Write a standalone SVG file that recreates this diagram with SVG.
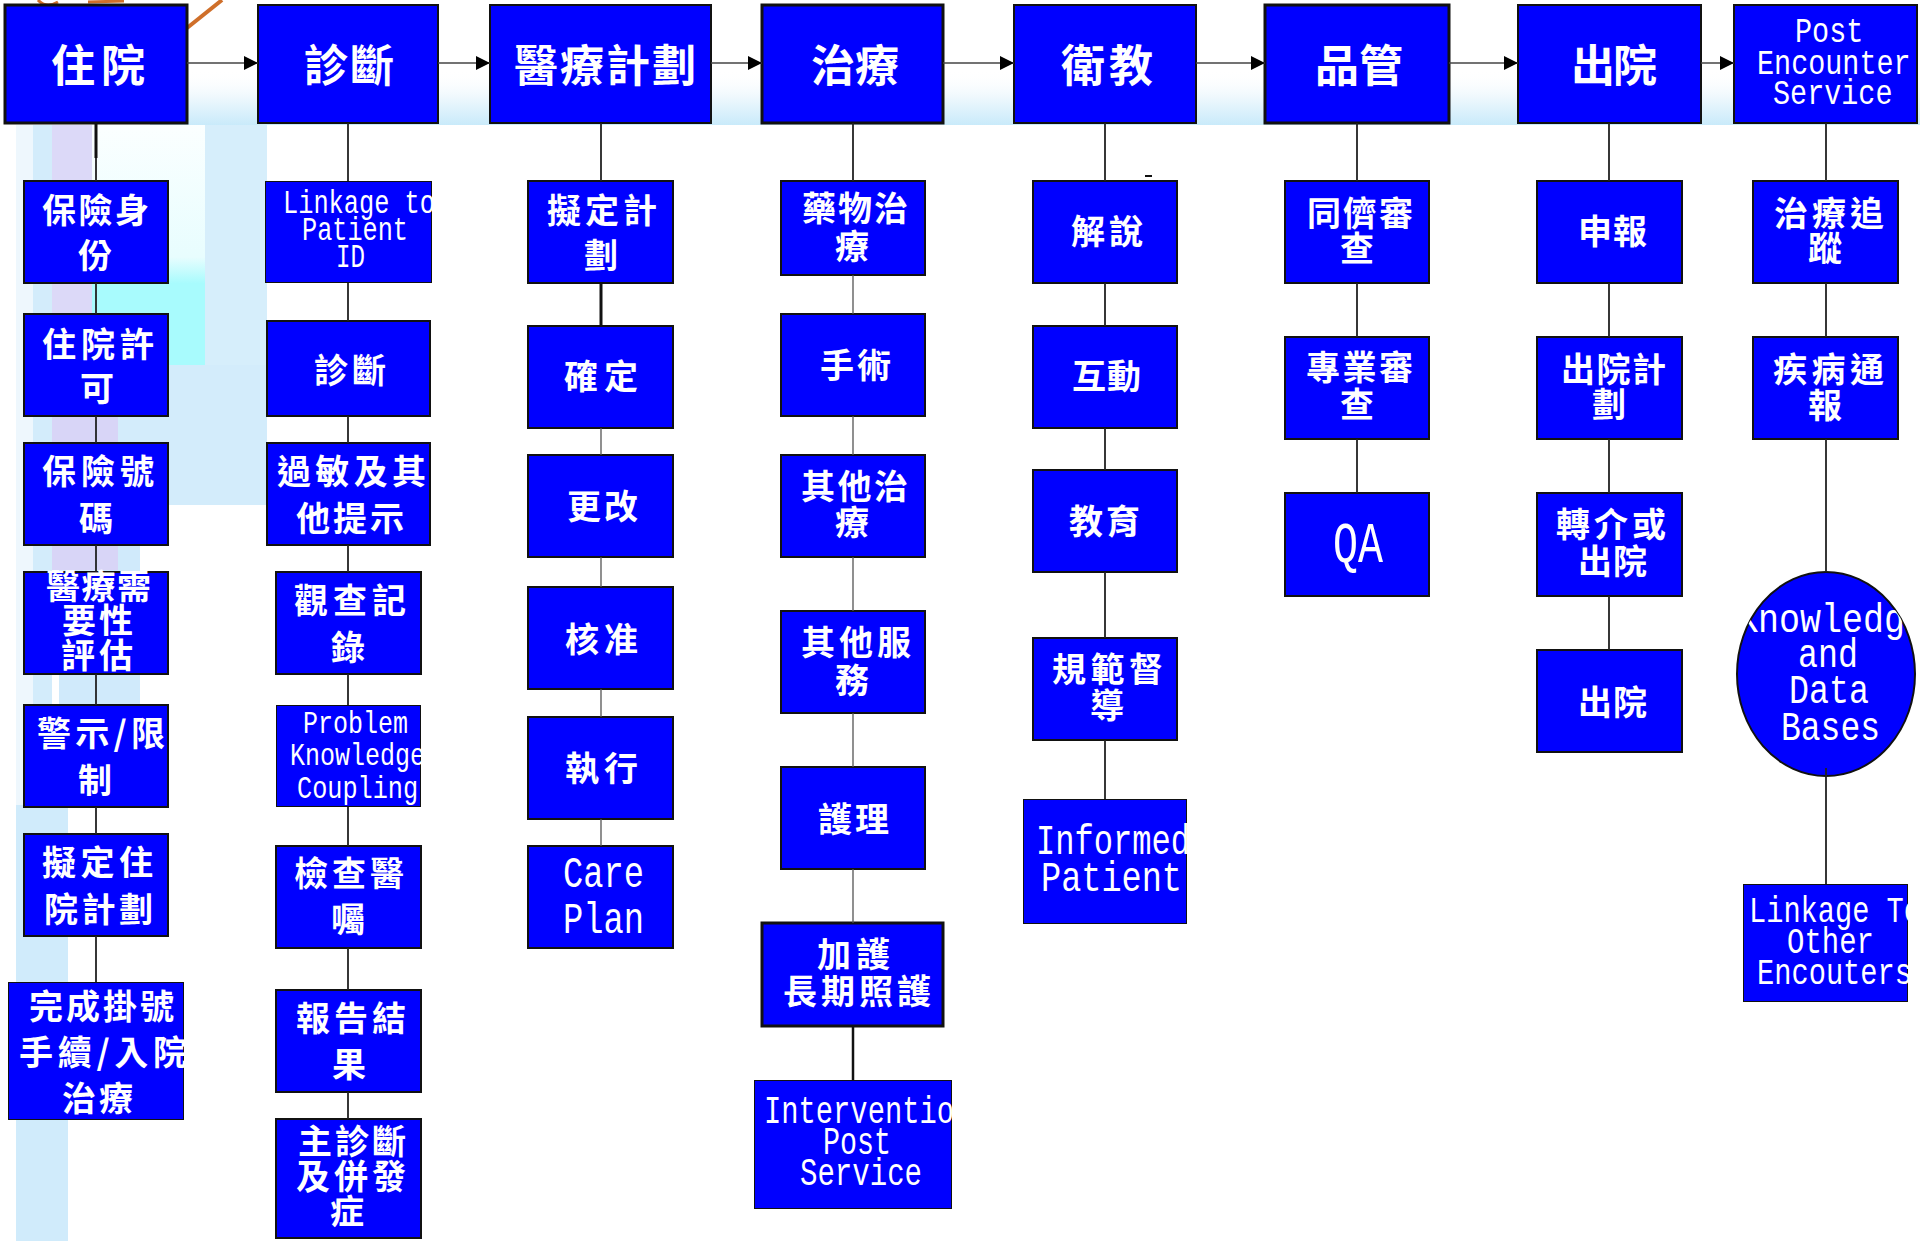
<svg xmlns="http://www.w3.org/2000/svg" width="1920" height="1241" viewBox="0 0 1920 1241">
<style>
.box{fill:#0000ff;stroke:#111;stroke-width:2}
.tk{stroke-width:3}
.zh{font-family:"Noto Sans CJK TC","Noto Sans CJK SC",sans-serif;font-weight:700;fill:#fff;font-size:34px}
.hd{font-size:44px}
.en{font-family:"Liberation Mono","DejaVu Sans Mono",monospace;fill:#fff}
.ln{stroke:#222;stroke-width:1.8;fill:none}
.lg{stroke:#555;stroke-width:1.3;fill:none}
.lt{stroke:#111;stroke-width:3;fill:none}
.ar{stroke:#444;stroke-width:1.5;fill:none;marker-end:url(#ah)}
</style>
<defs>
<marker id="ah" markerUnits="userSpaceOnUse" markerWidth="14" markerHeight="14" refX="14" refY="7" orient="auto"><path d="M0,0 L14,7 L0,14 Z" fill="#000"/></marker>
<linearGradient id="band" x1="0" y1="0" x2="0" y2="1"><stop offset="0" stop-color="#fff" stop-opacity="0"/><stop offset="0.5" stop-color="#eef8fd"/><stop offset="1" stop-color="#c9eafa"/></linearGradient>
<linearGradient id="cy" x1="0" y1="0" x2="0" y2="1"><stop offset="0" stop-color="#fbffff"/><stop offset="0.55" stop-color="#e8fdfe"/><stop offset="0.66" stop-color="#a8fbfd"/><stop offset="1" stop-color="#a8fbfd"/></linearGradient>
<clipPath id="c-link1"><rect x="265" y="181" width="167" height="102"/></clipPath>
<clipPath id="c-pkc"><rect x="276" y="705" width="145" height="102"/></clipPath>
<clipPath id="c-wan"><rect x="8" y="982" width="176" height="138"/></clipPath>
<clipPath id="c-inf"><rect x="1023" y="799" width="164" height="125"/></clipPath>
<clipPath id="c-int"><rect x="754" y="1080" width="198" height="129"/></clipPath>
<clipPath id="c-kdb"><ellipse cx="1826" cy="674" rx="89" ry="102"/></clipPath>
<clipPath id="c-lto"><rect x="1743" y="884" width="165" height="118"/></clipPath>
</defs>

<g id="background">
<rect x="0" y="0" width="1920" height="1241" fill="#fff"/>
<rect x="150" y="70" width="1770" height="55" fill="url(#band)"/>
<rect x="16" y="125" width="17" height="680" fill="#eef7fd"/>
<rect x="33" y="125" width="19" height="680" fill="#d3ecfb"/>
<rect x="16" y="805" width="52" height="436" fill="#d0ebfb"/>
<rect x="205" y="125" width="62" height="240" fill="#d6eefb"/>
<rect x="118" y="365" width="149" height="140" fill="#d3ecfb"/>
<rect x="59" y="505" width="81" height="200" fill="#d0eafb"/>
<rect x="92" y="125" width="113" height="240" fill="url(#cy)"/>
<rect x="52" y="125" width="40" height="240" fill="#dcd9f8"/>
<rect x="52" y="365" width="66" height="205" fill="#d8d5f7"/>
<path d="M38,0 Q46,9 58,2" stroke="#cf6f2a" stroke-width="3" fill="none"/>
<path d="M88,2 L124,1" stroke="#cf6f2a" stroke-width="3" fill="none"/>
<path d="M187,28 L222,0" stroke="#cf6f2a" stroke-width="4" fill="none"/>
</g>

<g id="n-zhuyuan"><rect class="box tk" x="5" y="5" width="182" height="118"/><text class="zh hd" x="51" y="82" textLength="94" lengthAdjust="spacing">住院</text></g>
<g id="n-zhenduan"><rect class="box" x="258" y="5" width="180" height="118"/><text class="zh hd" x="304" y="82" textLength="90" lengthAdjust="spacing">診斷</text></g>
<g id="n-yiliaojihua"><rect class="box" x="490" y="5" width="221" height="118"/><text class="zh hd" x="514" y="82" textLength="182" lengthAdjust="spacing">醫療計劃</text></g>
<g id="n-zhiliao"><rect class="box tk" x="762" y="5" width="181" height="118"/><text class="zh hd" x="811" y="82" textLength="88" lengthAdjust="spacing">治療</text></g>
<g id="n-weijiao"><rect class="box" x="1014" y="5" width="182" height="118"/><text class="zh hd" x="1061" y="82" textLength="92" lengthAdjust="spacing">衛教</text></g>
<g id="n-pinguan"><rect class="box tk" x="1265" y="5" width="184" height="118"/><text class="zh hd" x="1315" y="82" textLength="88" lengthAdjust="spacing">品管</text></g>
<g id="n-chuyuan"><rect class="box" x="1518" y="5" width="183" height="118"/><text class="zh hd" x="1571" y="82" textLength="86" lengthAdjust="spacing">出院</text></g>
<g id="n-post"><rect class="box" x="1734" y="5" width="183" height="118"/>
<text class="en" font-size="36" transform="translate(1795,42) scale(0.79,1)" x="0" y="0">Post</text>
<text class="en" font-size="36" transform="translate(1757,74) scale(0.79,1)" x="0" y="0">Encounter</text>
<text class="en" font-size="36" transform="translate(1773,104) scale(0.79,1)" x="0" y="0">Service</text></g>

<!-- column 1 -->
<g id="n-c1-1"><rect class="box" x="24" y="181" width="144" height="102"/><text class="zh" x="42" y="223" textLength="107" lengthAdjust="spacing">保險身</text><text class="zh" x="95" y="268" text-anchor="middle">份</text></g>
<g id="n-c1-2"><rect class="box" x="24" y="314" width="144" height="102"/><text class="zh" x="42" y="357" textLength="112" lengthAdjust="spacing">住院許</text><text class="zh" x="97" y="401" text-anchor="middle">可</text></g>
<g id="n-c1-3"><rect class="box" x="24" y="443" width="144" height="102"/><text class="zh" x="42" y="484" textLength="112" lengthAdjust="spacing">保險號</text><text class="zh" x="96" y="531" text-anchor="middle">碼</text></g>
<g id="n-c1-4"><rect class="box" x="24" y="572" width="144" height="102"/><text class="zh" x="46" y="599" textLength="105" lengthAdjust="spacing">醫療需</text><text class="zh" x="62" y="633" textLength="71" lengthAdjust="spacing">要性</text><text class="zh" x="61" y="668" textLength="72" lengthAdjust="spacing">評估</text></g>
<g id="n-c1-5"><rect class="box" x="24" y="705" width="144" height="102"/><text class="zh" x="37" y="746" textLength="128" lengthAdjust="spacing">警示/限</text><text class="zh" x="95" y="793" text-anchor="middle">制</text></g>
<g id="n-c1-6"><rect class="box" x="24" y="834" width="144" height="102"/><text class="zh" x="42" y="875" textLength="111" lengthAdjust="spacing">擬定住</text><text class="zh" x="44" y="922" textLength="109" lengthAdjust="spacing">院計劃</text></g>
<g id="n-c1-7" clip-path="url(#c-wan)"><rect class="box" x="8" y="982" width="176" height="138"/><text class="zh" x="29" y="1019" textLength="145" lengthAdjust="spacing">完成掛號</text><text class="zh" x="19" y="1065" textLength="168" lengthAdjust="spacing">手續/入院</text><text class="zh" x="62" y="1111" textLength="71" lengthAdjust="spacing">治療</text></g>

<!-- column 2 -->
<g id="n-c2-1" clip-path="url(#c-link1)"><rect class="box" x="265" y="181" width="167" height="102"/>
<text class="en" font-size="33" x="283" y="213" textLength="152" lengthAdjust="spacingAndGlyphs">Linkage to</text>
<text class="en" font-size="33" x="302" y="240" textLength="106" lengthAdjust="spacingAndGlyphs">Patient</text>
<text class="en" font-size="33" x="336" y="267" textLength="29" lengthAdjust="spacingAndGlyphs">ID</text></g>
<g id="n-c2-2"><rect class="box" x="267" y="321" width="163" height="95"/><text class="zh" x="314" y="383" textLength="72" lengthAdjust="spacing">診斷</text></g>
<g id="n-c2-3"><rect class="box" x="267" y="443" width="163" height="102"/><text class="zh" x="277" y="484" textLength="149" lengthAdjust="spacing">過敏及其</text><text class="zh" x="296" y="531" textLength="108" lengthAdjust="spacing">他提示</text></g>
<g id="n-c2-4"><rect class="box" x="276" y="572" width="145" height="102"/><text class="zh" x="294" y="613" textLength="112" lengthAdjust="spacing">觀查記</text><text class="zh" x="348" y="660" text-anchor="middle">錄</text></g>
<g id="n-c2-5" clip-path="url(#c-pkc)"><rect class="box" x="276" y="705" width="145" height="102"/>
<text class="en" font-size="32" x="303" y="733" textLength="105" lengthAdjust="spacingAndGlyphs">Problem</text>
<text class="en" font-size="32" x="290" y="765" textLength="135" lengthAdjust="spacingAndGlyphs">Knowledge</text>
<text class="en" font-size="32" x="297" y="798" textLength="121" lengthAdjust="spacingAndGlyphs">Coupling</text></g>
<g id="n-c2-6"><rect class="box" x="276" y="846" width="145" height="102"/><text class="zh" x="294" y="886" textLength="110" lengthAdjust="spacing">檢查醫</text><text class="zh" x="348" y="932" text-anchor="middle">囑</text></g>
<g id="n-c2-7"><rect class="box" x="276" y="990" width="145" height="102"/><text class="zh" x="296" y="1031" textLength="110" lengthAdjust="spacing">報告結</text><text class="zh" x="349" y="1077" text-anchor="middle">果</text></g>
<g id="n-c2-8"><rect class="box" x="276" y="1119" width="145" height="119"/><text class="zh" x="298" y="1154" textLength="108" lengthAdjust="spacing">主診斷</text><text class="zh" x="296" y="1189" textLength="110" lengthAdjust="spacing">及併發</text><text class="zh" x="347" y="1224" text-anchor="middle">症</text></g>

<!-- column 3 -->
<g id="n-c3-1"><rect class="box" x="528" y="181" width="145" height="102"/><text class="zh" x="547" y="223" textLength="110" lengthAdjust="spacing">擬定計</text><text class="zh" x="601" y="268" text-anchor="middle">劃</text></g>
<g id="n-c3-2"><rect class="box" x="528" y="326" width="145" height="102"/><text class="zh" x="564" y="389" textLength="74" lengthAdjust="spacing">確定</text></g>
<g id="n-c3-3"><rect class="box" x="528" y="455" width="145" height="102"/><text class="zh" x="567" y="519" textLength="71" lengthAdjust="spacing">更改</text></g>
<g id="n-c3-4"><rect class="box" x="528" y="587" width="145" height="102"/><text class="zh" x="565" y="652" textLength="73" lengthAdjust="spacing">核准</text></g>
<g id="n-c3-5"><rect class="box" x="528" y="717" width="145" height="102"/><text class="zh" x="565" y="781" textLength="73" lengthAdjust="spacing">執行</text></g>
<g id="n-c3-6"><rect class="box" x="528" y="846" width="145" height="102"/>
<text class="en" font-size="45" x="563" y="887" textLength="81" lengthAdjust="spacingAndGlyphs">Care</text>
<text class="en" font-size="45" x="563" y="933" textLength="81" lengthAdjust="spacingAndGlyphs">Plan</text></g>

<!-- column 4 -->
<g id="n-c4-1"><rect class="box" x="781" y="181" width="144" height="94"/><text class="zh" x="802" y="221" textLength="106" lengthAdjust="spacing">藥物治</text><text class="zh" x="852" y="259" text-anchor="middle">療</text></g>
<g id="n-c4-2"><rect class="box" x="781" y="314" width="144" height="102"/><text class="zh" x="820" y="378" textLength="71" lengthAdjust="spacing">手術</text></g>
<g id="n-c4-3"><rect class="box" x="781" y="455" width="144" height="102"/><text class="zh" x="801" y="499" textLength="107" lengthAdjust="spacing">其他治</text><text class="zh" x="852" y="535" text-anchor="middle">療</text></g>
<g id="n-c4-4"><rect class="box" x="781" y="611" width="144" height="102"/><text class="zh" x="801" y="655" textLength="110" lengthAdjust="spacing">其他服</text><text class="zh" x="852" y="693" text-anchor="middle">務</text></g>
<g id="n-c4-5"><rect class="box" x="781" y="767" width="144" height="102"/><text class="zh" x="818" y="832" textLength="71" lengthAdjust="spacing">護理</text></g>
<g id="n-c4-6"><rect class="box tk" x="762" y="923" width="181" height="103"/><text class="zh" x="817" y="967" textLength="73" lengthAdjust="spacing">加護</text><text class="zh" x="783" y="1004" textLength="148" lengthAdjust="spacing">長期照護</text></g>
<g id="n-c4-7" clip-path="url(#c-int)"><rect class="box" x="754" y="1080" width="198" height="129"/>
<text class="en" font-size="38" x="764" y="1123" textLength="190" lengthAdjust="spacingAndGlyphs">Interventio</text>
<text class="en" font-size="38" x="823" y="1154" textLength="68" lengthAdjust="spacingAndGlyphs">Post</text>
<text class="en" font-size="38" x="800" y="1185" textLength="122" lengthAdjust="spacingAndGlyphs">Service</text></g>

<!-- column 5 -->
<g id="n-c5-1"><rect class="box" x="1033" y="181" width="144" height="102"/><text class="zh" x="1071" y="244" textLength="72" lengthAdjust="spacing">解說</text></g>
<g id="n-c5-2"><rect class="box" x="1033" y="326" width="144" height="102"/><text class="zh" x="1072" y="389" textLength="69" lengthAdjust="spacing">互動</text></g>
<g id="n-c5-3"><rect class="box" x="1033" y="470" width="144" height="102"/><text class="zh" x="1069" y="534" textLength="71" lengthAdjust="spacing">教育</text></g>
<g id="n-c5-4"><rect class="box" x="1033" y="638" width="144" height="102"/><text class="zh" x="1052" y="682" textLength="111" lengthAdjust="spacing">規範督</text><text class="zh" x="1107" y="718" text-anchor="middle">導</text></g>
<g id="n-c5-5" clip-path="url(#c-inf)"><rect class="box" x="1023" y="799" width="164" height="125"/>
<text class="en" font-size="42" x="1036" y="854" textLength="154" lengthAdjust="spacingAndGlyphs">Informed</text>
<text class="en" font-size="42" x="1041" y="891" textLength="141" lengthAdjust="spacingAndGlyphs">Patient</text></g>

<!-- column 6 -->
<g id="n-c6-1"><rect class="box" x="1285" y="181" width="144" height="102"/><text class="zh" x="1307" y="226" textLength="106" lengthAdjust="spacing">同儕審</text><text class="zh" x="1357" y="261" text-anchor="middle">查</text></g>
<g id="n-c6-2"><rect class="box" x="1285" y="337" width="144" height="102"/><text class="zh" x="1306" y="380" textLength="107" lengthAdjust="spacing">專業審</text><text class="zh" x="1357" y="417" text-anchor="middle">查</text></g>
<g id="n-c6-3"><rect class="box" x="1285" y="493" width="144" height="103"/><text class="en" font-size="57" x="1333" y="562" textLength="50" lengthAdjust="spacingAndGlyphs">QA</text></g>

<!-- column 7 -->
<g id="n-c7-1"><rect class="box" x="1537" y="181" width="145" height="102"/><text class="zh" x="1578" y="244" textLength="69" lengthAdjust="spacing">申報</text></g>
<g id="n-c7-2"><rect class="box" x="1537" y="337" width="145" height="102"/><text class="zh" x="1561" y="382" textLength="105" lengthAdjust="spacing">出院計</text><text class="zh" x="1609" y="417" text-anchor="middle">劃</text></g>
<g id="n-c7-3"><rect class="box" x="1537" y="493" width="145" height="103"/><text class="zh" x="1556" y="537" textLength="110" lengthAdjust="spacing">轉介或</text><text class="zh" x="1578" y="574" textLength="69" lengthAdjust="spacing">出院</text></g>
<g id="n-c7-4"><rect class="box" x="1537" y="650" width="145" height="102"/><text class="zh" x="1578" y="715" textLength="69" lengthAdjust="spacing">出院</text></g>

<!-- column 8 -->
<g id="n-c8-1"><rect class="box" x="1753" y="181" width="145" height="102"/><text class="zh" x="1774" y="226" textLength="110" lengthAdjust="spacing">治療追</text><text class="zh" x="1825" y="261" text-anchor="middle">蹤</text></g>
<g id="n-c8-2"><rect class="box" x="1753" y="337" width="145" height="102"/><text class="zh" x="1773" y="382" textLength="111" lengthAdjust="spacing">疾病通</text><text class="zh" x="1825" y="418" text-anchor="middle">報</text></g>
<g id="n-c8-3"><ellipse cx="1826" cy="674" rx="89" ry="102" fill="#0000ff" stroke="#111" stroke-width="2"/>
<g clip-path="url(#c-kdb)">
<text class="en" font-size="41" x="1737" y="632" textLength="168" lengthAdjust="spacingAndGlyphs">Knowledg</text>
<text class="en" font-size="41" x="1798" y="667" textLength="60" lengthAdjust="spacingAndGlyphs">and</text>
<text class="en" font-size="41" x="1789" y="703" textLength="80" lengthAdjust="spacingAndGlyphs">Data</text>
<text class="en" font-size="41" x="1781" y="740" textLength="99" lengthAdjust="spacingAndGlyphs">Bases</text></g></g>
<g id="n-c8-4" clip-path="url(#c-lto)"><rect class="box" x="1743" y="884" width="165" height="118"/>
<text class="en" font-size="37" x="1749" y="922" textLength="172" lengthAdjust="spacingAndGlyphs">Linkage To</text>
<text class="en" font-size="37" x="1787" y="953" textLength="87" lengthAdjust="spacingAndGlyphs">Other</text>
<text class="en" font-size="37" x="1757" y="984" textLength="155" lengthAdjust="spacingAndGlyphs">Encouters</text></g>

<g id="connectors">
<line class="ar" x1="187" y1="63" x2="258" y2="63"/>
<line class="ar" x1="438" y1="63" x2="490" y2="63"/>
<line class="ar" x1="711" y1="63" x2="762" y2="63"/>
<line class="ar" x1="943" y1="63" x2="1014" y2="63"/>
<line class="ar" x1="1196" y1="63" x2="1265" y2="63"/>
<line class="ar" x1="1449" y1="63" x2="1518" y2="63"/>
<line class="ar" x1="1701" y1="63" x2="1734" y2="63"/>

<line class="lt" x1="96" y1="124" x2="96" y2="158"/>
<path class="ln" d="M96,158V181 M96,283V314 M96,416V443 M96,545V572 M96,674V705 M96,807V834 M96,936V982"/>
<path class="ln" d="M348,123V181 M348,283V321 M348,416V443 M348,545V572 M348,674V705 M348,807V846 M348,948V990 M348,1092V1119"/>
<path class="ln" d="M601,123V181"/>
<line class="lt" x1="601" y1="283" x2="601" y2="326"/>
<path class="lg" d="M601,428V455 M601,557V587 M601,689V717 M601,819V846"/>
<path class="ln" d="M853,123V181"/>
<path class="lg" d="M853,275V314 M853,416V455 M853,557V611 M853,713V767 M853,869V923"/>
<line x1="853" y1="1026" x2="853" y2="1080" stroke="#111" stroke-width="2.5"/>
<path class="ln" d="M1105,123V181 M1105,283V326 M1105,428V470 M1105,572V638 M1105,740V799"/>
<path class="ln" d="M1357,123V181 M1357,283V337 M1357,439V493"/>
<path class="ln" d="M1609,123V181 M1609,283V337 M1609,439V493 M1609,596V650"/>
<path class="ln" d="M1826,123V181 M1826,283V337 M1826,439V572 M1826,768V884"/>
<line x1="1145" y1="176" x2="1152" y2="176" stroke="#111" stroke-width="2"/>
</g>
</svg>
